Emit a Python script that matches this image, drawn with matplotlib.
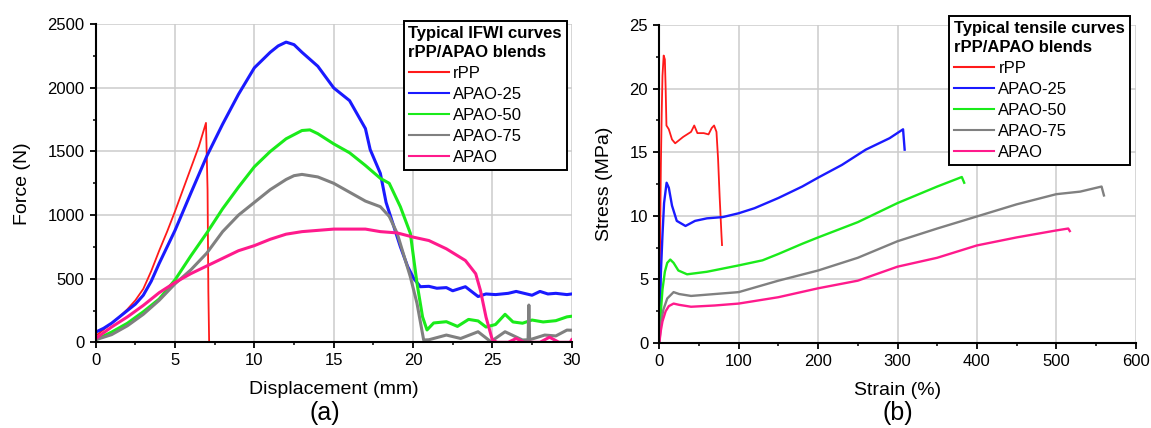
import matplotlib
matplotlib.use("Agg")
import matplotlib.pyplot as plt
from matplotlib.ticker import MultipleLocator

plt.rcParams['font.family'] = ['Liberation Sans', 'DejaVu Sans']

# ---------------- data: (a) IFWI curves ----------------
ifwi_labels = ["rPP", "APAO-25", "APAO-50", "APAO-75", "APAO"]
ifwi_colors = ["#ff1a1a", "#1a1aff", "#1aeb1a", "#808080", "#ff1a8c"]

rpp_x = [0, 0.5, 1, 1.5, 2, 2.5, 3, 3.5, 4, 4.5, 5, 5.5, 6, 6.5, 6.95, 7.05, 7.1, 7.15]
rpp_y = [50, 100, 150, 200, 260, 330, 420, 560, 720, 870, 1030, 1200, 1370, 1540, 1725, 1200, 400, 0]

a25_x = [0, 0.5, 1, 1.5, 2, 2.5, 3, 3.5, 4, 4.5, 5, 6, 7, 8, 9, 10, 11, 11.5, 12, 12.5, 13, 14, 15,
         16, 17, 17.3, 17.94, 18.3, 19.2, 19.66, 20.04, 20.46, 21, 21.5, 22.1, 22.5, 23.3, 24.1,
         24.6, 25.2, 26, 26.5, 27, 27.5, 28, 28.5, 29, 29.7, 30]
a25_y = [80, 110, 150, 200, 250, 300, 370, 480, 620, 750, 880, 1174, 1463, 1715, 1950, 2158, 2280,
         2330, 2360, 2340, 2280, 2170, 2000, 1900, 1680, 1515, 1328, 1100, 752, 596, 503, 437, 440,
         425, 430, 405, 437, 360, 380, 375, 385, 400, 385, 370, 400, 380, 385, 375, 380]

a50_x = [0, 1, 2, 3, 4, 5, 6, 7, 8, 9, 10, 11, 12, 13, 13.5, 14, 15, 16, 17, 17.94, 18.5, 19.2,
         19.83, 20.25, 20.6, 20.88, 21.3, 22.1, 22.8, 23.5, 24.1, 24.6, 25.2, 25.8, 26.3, 26.9,
         27.5, 28.2, 29, 29.7, 30]
a50_y = [20, 80, 150, 240, 340, 491, 680, 859, 1050, 1220, 1380, 1500, 1600, 1665, 1670, 1640, 1560,
         1490, 1390, 1289, 1250, 1066, 857, 464, 200, 97, 152, 162, 125, 180, 168, 120, 140, 220,
         160, 150, 175, 160, 170, 200, 205]

a75_x = [0, 1, 2, 3, 4, 5, 6, 7, 8, 9, 10, 11, 12, 12.5, 13, 14, 15, 16, 17, 17.94, 18.5, 19.0,
         19.83, 20.25, 20.67, 21, 22.1, 23, 24.1, 24.9, 25.8, 26.9, 27.25, 27.3, 27.35, 28.3, 29,
         29.7, 30]
a75_y = [20, 60, 130, 220, 330, 460, 570, 701, 870, 1000, 1100, 1200, 1280, 1310, 1320, 1300, 1250,
         1180, 1110, 1066, 990, 857, 515, 306, 18, 20, 57, 30, 83, 5, 83, 18, 20, 293, 20, 57, 50, 96, 95]

apao_x = [0, 1, 2, 3, 4, 5, 6, 7, 8, 9, 10, 11, 12, 13, 14, 15, 16, 17, 17.94, 19, 20.04, 21,
          22.1, 23.3, 23.95, 24.25, 24.6, 25.0, 25.3, 26.0, 26.5, 27.0, 28.0, 28.6, 29.2, 29.9, 30]
apao_y = [30, 120, 200, 290, 390, 470, 540, 600, 660, 720, 760, 810, 850, 870, 880, 890, 890, 890,
          870, 860, 826, 800, 735, 643, 539, 407, 198, 18, 0, 0, 30, 0, 0, 40, 0, 0, 20]

ifwi_x = [rpp_x, a25_x, a50_x, a75_x, apao_x]
ifwi_y = [rpp_y, a25_y, a50_y, a75_y, apao_y]

# ---------------- data: (b) tensile curves ----------------
t_rpp_x = [0, 1, 2, 3, 4, 5.5, 7, 8, 9, 12, 16, 20, 30, 40, 44, 48, 56, 62, 66, 69, 72, 74, 76, 78.3, 79]
t_rpp_y = [0, 8, 14, 18, 21, 22.6, 22.3, 20, 17.1, 16.8, 16.0, 15.7, 16.2, 16.6, 17.1, 16.5, 16.5,
           16.4, 16.9, 17.1, 16.6, 14.5, 11.5, 8.5, 7.7]

t_a25_x = [0, 2, 4, 6, 9.2, 12, 16, 22, 33, 45, 60, 80, 100, 120, 150, 180, 200, 230, 260, 290, 307, 309]
t_a25_y = [0, 5.5, 8.5, 11.0, 12.6, 12.2, 10.8, 9.6, 9.2, 9.6, 9.8, 9.9, 10.2, 10.6, 11.4, 12.3,
           13.0, 14.0, 15.2, 16.1, 16.8, 15.2]

t_a50_x = [0, 2, 4, 7, 10, 13.8, 18, 24, 35, 60, 100, 130, 150, 180, 200, 250, 300, 350, 381, 384]
t_a50_y = [0, 2.5, 4.2, 5.6, 6.3, 6.56, 6.3, 5.7, 5.4, 5.6, 6.1, 6.5, 7.0, 7.8, 8.3, 9.5, 11.0,
           12.3, 13.05, 12.6]

t_a75_x = [0, 2, 5, 10, 18, 25, 40, 70, 100, 150, 200, 250, 300, 350, 400, 450, 500, 530, 557, 560]
t_a75_y = [0, 1.5, 2.6, 3.5, 4.0, 3.85, 3.7, 3.85, 4.0, 4.9, 5.7, 6.7, 8.0, 9.0, 9.95, 10.9, 11.7,
           11.9, 12.3, 11.6]

t_apao_x = [0, 2, 4, 8, 12, 18, 25, 40, 70, 100, 150, 200, 250, 300, 350, 400, 450, 500, 515, 517]
t_apao_y = [0, 1.0, 1.7, 2.5, 2.9, 3.1, 3.0, 2.85, 2.95, 3.1, 3.6, 4.3, 4.9, 6.0, 6.7, 7.67, 8.3,
            8.85, 9.0, 8.8]

tens_x = [t_rpp_x, t_a25_x, t_a50_x, t_a75_x, t_apao_x]
tens_y = [t_rpp_y, t_a25_y, t_a50_y, t_a75_y, t_apao_y]

# ---------------- figure ----------------
W, H = 1151, 428
fig = plt.figure(figsize=(W / 100, H / 100), dpi=100)
fig.patch.set_facecolor("white")

ax1 = fig.add_axes([95.7 / W, 1 - 342.3 / H, (571.7 - 95.7) / W, (342.3 - 24.3) / H])
ax2 = fig.add_axes([659.3 / W, 1 - 343.0 / H, (1135.7 - 659.3) / W, (343.0 - 25.0) / H])

TICK = 12
LAB = 14

def style(ax):
    for s in ["top", "right"]:
        ax.spines[s].set_visible(False)
    for s in ["left", "bottom"]:
        ax.spines[s].set_linewidth(1.5)
        ax.spines[s].set_color("black")
        ax.spines[s].set_zorder(5)
    ax.grid(True, which="major", color="#cccccc", linewidth=1.1)
    ax.set_axisbelow(True)
    ax.tick_params(which="major", direction="out", length=4, width=1.3, labelsize=TICK, pad=4)
    ax.tick_params(which="minor", direction="out", length=2.5, width=1.1)

# (a)
for x, y, c, lab in zip(ifwi_x, ifwi_y, ifwi_colors, ifwi_labels):
    lw = 1.3 if lab == "rPP" else 2.2
    ax1.plot(x, y, color=c, lw=lw, label=lab, solid_joinstyle="round")
ax1.set_xlim(0, 30)
ax1.set_ylim(0, 2500)
ax1.xaxis.set_major_locator(MultipleLocator(5))
ax1.xaxis.set_minor_locator(MultipleLocator(2.5))
ax1.yaxis.set_major_locator(MultipleLocator(500))
ax1.yaxis.set_minor_locator(MultipleLocator(250))
style(ax1)
ax1.set_xlabel("Displacement (mm)", fontsize=LAB, labelpad=9)
ax1.set_ylabel("Force (N)", fontsize=LAB, labelpad=12)

# (b)
for x, y, c, lab in zip(tens_x, tens_y, ifwi_colors, ifwi_labels):
    lw = 1.3 if lab == "rPP" else 1.7
    ax2.plot(x, y, color=c, lw=lw, label=lab)
ax2.set_xlim(0, 600)
ax2.set_ylim(0, 25)
ax2.xaxis.set_major_locator(MultipleLocator(100))
ax2.xaxis.set_minor_locator(MultipleLocator(50))
ax2.yaxis.set_major_locator(MultipleLocator(5))
ax2.yaxis.set_minor_locator(MultipleLocator(2.5))
style(ax2)
ax2.set_xlabel("Strain (%)", fontsize=LAB, labelpad=9)
ax2.set_ylabel("Stress (MPa)", fontsize=LAB, labelpad=12)

fig.text(325 / W, 1 - 413 / H, "(a)", fontsize=18, ha="center", va="center")
fig.text(898 / W, 1 - 413 / H, "(b)", fontsize=18, ha="center", va="center")

def make_legend(ax, title, right, top):
    leg = ax.legend(title=title, loc="upper right",
                    bbox_to_anchor=(right / W, 1 - top / H), bbox_transform=fig.transFigure,
                    borderaxespad=0, fancybox=False, framealpha=1, edgecolor="black",
                    fontsize=12, title_fontproperties={"weight": "bold", "size": 12},
                    alignment="left", handlelength=2.4, handletextpad=0.25,
                    labelspacing=0.36, borderpad=0.3)
    leg.get_title().set_linespacing(1.35)
    leg.get_frame().set_linewidth(1.4)
    for l in leg.get_lines():
        l.set_linewidth(1.5)
    leg.set_zorder(10)
    return leg

make_legend(ax1, "Typical IFWI curves\nrPP/APAO blends", 567, 21)
make_legend(ax2, "Typical tensile curves\nrPP/APAO blends", 1130, 16)

fig.savefig("out.png", dpi=100, facecolor="white")
